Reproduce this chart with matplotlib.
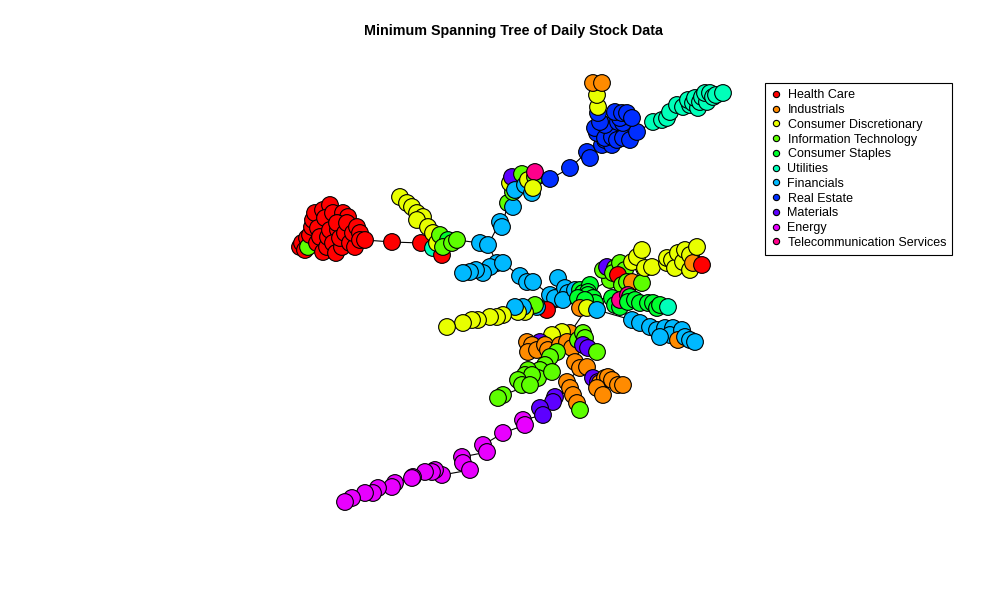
import matplotlib
matplotlib.use("Agg")
import matplotlib.pyplot as plt
from matplotlib.lines import Line2D

plt.rcParams['font.family'] = ['Liberation Sans', 'DejaVu Sans']

sectors = ["Health Care", "Industrials", "Consumer Discretionary",
           "Information Technology", "Consumer Staples", "Utilities",
           "Financials", "Real Estate", "Materials", "Energy",
           "Telecommunication Services"]
# R rainbow(11)
sector_colors = ["#FF0000", "#FF8B00", "#E8FF00", "#5DFF00", "#00FF2E", "#00FFB9",
                 "#00B9FF", "#002EFF", "#5D00FF", "#E800FF", "#FF008B"]

# node layout (x, y on the 1000x600 canvas, sector index); each list is a chain
health = [(300, 247, 0), (302, 243, 0), (305, 250, 0), (307, 238, 0), (308, 247, 3),
          (310, 235, 0), (312, 227, 0), (313, 220, 0), (315, 213, 0), (318, 228, 0),
          (323, 210, 0), (330, 205, 0), (325, 218, 0), (333, 213, 0), (343, 213, 0),
          (348, 217, 0), (317, 243, 0), (320, 237, 0), (323, 252, 0), (327, 247, 0),
          (328, 237, 0), (330, 230, 0), (338, 230, 0), (337, 223, 0), (333, 243, 0),
          (336, 253, 0), (342, 247, 0), (340, 238, 0), (345, 233, 0), (347, 223, 0),
          (350, 243, 0), (355, 247, 0), (353, 233, 0), (357, 227, 0), (360, 233, 0),
          (360, 240, 0), (365, 240, 0), (392, 242, 0), (421, 243, 0)]
cd_arm = [(400, 197, 2), (407, 203, 2), (412, 207, 2), (417, 213, 2), (423, 217, 2),
          (417, 220, 2), (428, 227, 2), (433, 233, 2), (433, 248, 5), (442, 255, 0),
          (437, 243, 2), (440, 235, 3), (448, 240, 4), (443, 247, 3), (452, 243, 3),
          (457, 240, 3)]
fin_up = [(480, 243, 6), (488, 245, 6), (500, 222, 6), (502, 227, 6), (508, 203, 3),
          (513, 207, 6)]
fin_row = [(497, 263, 6), (490, 267, 6), (483, 273, 6), (476, 270, 6), (470, 272, 6),
           (463, 273, 6)]
fin_row2 = [(503, 263, 6), (520, 276, 6), (527, 282, 6), (533, 282, 6)]
mixed = [(513, 192, 3), (515, 185, 6), (510, 183, 2), (512, 177, 8), (522, 174, 3),
         (515, 190, 6), (525, 185, 6), (528, 180, 2), (535, 177, 3), (535, 172, 10),
         (532, 193, 6), (533, 188, 2), (550, 179, 7), (570, 168, 7)]
re_core = [(587, 152, 7), (590, 158, 7), (602, 145, 7), (605, 140, 7), (612, 145, 7),
           (597, 133, 7), (595, 128, 7), (610, 130, 7), (605, 138, 7), (612, 137, 7),
           (617, 140, 7), (625, 130, 7), (623, 138, 7), (630, 140, 7), (637, 132, 7)]
re_top = [(605, 125, 7), (600, 122, 7), (598, 113, 7), (598, 107, 2), (597, 95, 2),
          (593, 83, 1), (602, 83, 1)]
re_arm = [(618, 122, 7), (623, 123, 7), (620, 118, 7), (615, 112, 7), (622, 113, 7),
          (627, 113, 7), (632, 118, 7)]
utilities = [(653, 122, 5), (662, 120, 5), (667, 118, 5), (670, 112, 5), (677, 105, 5),
             (683, 107, 5), (690, 105, 5), (688, 100, 5), (693, 103, 5), (698, 108, 5),
             (695, 98, 5), (700, 102, 5), (702, 97, 5), (707, 102, 5), (705, 93, 5),
             (710, 93, 5), (713, 97, 5), (716, 95, 5), (723, 93, 5)]
fin_center = [(550, 295, 6), (555, 298, 6), (558, 278, 6), (565, 288, 6), (568, 293, 6),
              (563, 300, 6), (575, 290, 6)]
center = [(580, 290, 4), (583, 293, 4), (590, 285, 4), (588, 292, 4), (588, 295, 4),
          (578, 298, 4), (593, 298, 4), (595, 303, 4), (585, 300, 4), (580, 308, 1),
          (587, 308, 2), (597, 310, 6)]
lower_row = [(547, 310, 0), (537, 307, 6), (535, 305, 3), (525, 312, 2), (523, 307, 6),
             (518, 312, 2), (515, 307, 6), (503, 315, 2), (497, 317, 2), (490, 317, 2),
             (478, 320, 2), (472, 320, 2), (463, 323, 2), (447, 327, 2)]
upper_right = [(610, 280, 3), (603, 270, 3), (607, 267, 8), (615, 268, 3), (613, 273, 3),
               (620, 263, 3), (625, 270, 3), (618, 275, 0), (622, 285, 3), (627, 282, 3),
               (632, 282, 1), (642, 283, 3), (632, 262, 2), (637, 257, 2), (642, 250, 2),
               (645, 268, 2), (652, 267, 2)]
cd_right = [(667, 263, 2), (667, 258, 2), (672, 260, 2), (675, 268, 2), (678, 253, 2),
            (683, 262, 2), (685, 250, 2), (690, 255, 2), (690, 270, 2), (693, 263, 1),
            (697, 247, 2), (702, 265, 0)]
staples = [(612, 298, 4), (615, 305, 4), (620, 307, 4), (620, 300, 10), (628, 295, 10),
           (630, 297, 4), (628, 302, 4), (635, 300, 4), (640, 303, 4), (648, 303, 4),
           (653, 303, 4), (657, 308, 4), (660, 305, 4), (668, 307, 5)]
fin_right = [(632, 320, 6), (640, 323, 6), (650, 327, 6), (657, 330, 6), (665, 328, 6),
             (673, 328, 6), (670, 335, 6), (660, 337, 6), (682, 330, 6), (678, 340, 1),
             (685, 337, 6), (690, 340, 6), (695, 342, 6)]
bottom_top = [(570, 333, 1), (562, 332, 2), (552, 335, 2), (540, 342, 8), (527, 342, 1),
              (532, 345, 1), (528, 352, 1), (537, 350, 1), (545, 345, 1), (548, 350, 1),
              (560, 345, 1), (567, 342, 1), (572, 348, 1), (578, 340, 3), (583, 333, 3),
              (585, 338, 3), (583, 345, 8), (588, 348, 8), (597, 352, 3), (557, 352, 3)]
it_branch = [(550, 357, 3), (545, 365, 3), (540, 370, 3), (538, 378, 3), (552, 372, 3),
             (528, 370, 3), (525, 375, 3), (532, 375, 3), (518, 380, 3), (522, 385, 3),
             (530, 385, 3), (503, 395, 3), (498, 398, 3)]
ind_mid = [(575, 362, 1), (580, 368, 1), (567, 382, 1), (570, 388, 1), (573, 395, 1),
           (577, 403, 1), (580, 410, 3)]
ind_right = [(587, 367, 1), (593, 378, 8), (598, 382, 8), (600, 383, 1), (605, 378, 1),
             (608, 377, 1), (612, 380, 1), (618, 385, 1), (623, 385, 1), (597, 388, 1),
             (603, 395, 1)]
energy = [(555, 397, 8), (553, 402, 8), (540, 408, 8), (543, 415, 8), (523, 420, 9),
          (525, 425, 9), (503, 433, 9), (483, 445, 9), (487, 452, 9), (462, 457, 9),
          (463, 463, 9), (470, 470, 9), (442, 475, 9), (435, 470, 9), (432, 472, 9),
          (425, 472, 9), (413, 477, 9), (412, 478, 9), (395, 483, 9), (392, 487, 9),
          (378, 488, 9), (373, 493, 9), (365, 493, 9), (352, 498, 9), (345, 502, 9)]

branches = {"health": health, "cd_arm": cd_arm, "fin_up": fin_up, "fin_row": fin_row,
            "fin_row2": fin_row2, "mixed": mixed, "re_core": re_core, "re_top": re_top,
            "re_arm": re_arm, "utilities": utilities, "fin_center": fin_center,
            "center": center, "lower_row": lower_row, "upper_right": upper_right,
            "cd_right": cd_right, "staples": staples, "fin_right": fin_right,
            "bottom_top": bottom_top, "it_branch": it_branch, "ind_mid": ind_mid,
            "ind_right": ind_right, "energy": energy}

# tree edges joining the chains: (branch, node, branch, node)
links = [("health", 38, "cd_arm", 10), ("cd_arm", 15, "fin_up", 0),
         ("fin_up", 1, "fin_row", 0), ("fin_row", 0, "fin_row2", 0),
         ("fin_up", 5, "mixed", 0), ("mixed", 13, "re_core", 0),
         ("re_core", 5, "re_top", 0), ("re_core", 11, "re_arm", 0),
         ("re_core", 14, "utilities", 0), ("fin_row2", 3, "fin_center", 0),
         ("fin_center", 6, "center", 0), ("center", 8, "lower_row", 0),
         ("center", 3, "upper_right", 0), ("upper_right", 16, "cd_right", 0),
         ("center", 6, "staples", 0), ("center", 11, "fin_right", 0),
         ("center", 10, "bottom_top", 0), ("bottom_top", 9, "it_branch", 0),
         ("bottom_top", 12, "ind_mid", 0), ("ind_mid", 1, "ind_right", 0),
         ("ind_mid", 3, "energy", 0)]

fig = plt.figure(figsize=(10, 6), dpi=100)
ax = fig.add_axes([0, 0, 1, 1])
ax.set_xlim(0, 1000)
ax.set_ylim(600, 0)
ax.axis("off")

for nodes in branches.values():
    for a, b in zip(nodes[:-1], nodes[1:]):
        ax.plot([a[0], b[0]], [a[1], b[1]], color="black", lw=0.8, zorder=1)
for b1, i1, b2, i2 in links:
    p, q = branches[b1][i1], branches[b2][i2]
    ax.plot([p[0], q[0]], [p[1], q[1]], color="black", lw=0.8, zorder=1)

for nodes in branches.values():
    ax.scatter([n[0] for n in nodes], [n[1] for n in nodes],
               c=[sector_colors[n[2]] for n in nodes], s=145,
               edgecolors="black", linewidths=0.8, zorder=2)

fig.text(0.514, 1 - 31 / 600, "Minimum Spanning Tree of Daily Stock Data",
         ha="center", va="center", fontsize=10.3, fontweight="bold")

handles = [Line2D([], [], marker="o", ls="", markersize=4.5, markerfacecolor=c,
                  markeredgecolor="black", markeredgewidth=0.8) for c in sector_colors]
leg = ax.legend(handles, sectors, loc="upper left", bbox_to_anchor=(0.765, 1 - 83 / 600),
                bbox_transform=fig.transFigure, fontsize=9, frameon=True, fancybox=False,
                framealpha=1, edgecolor="black", borderpad=0.5, labelspacing=0.22,
                handlelength=0.8, handletextpad=0.5, borderaxespad=0)
leg.get_frame().set_linewidth(0.8)

fig.savefig("out.png", dpi=100)
